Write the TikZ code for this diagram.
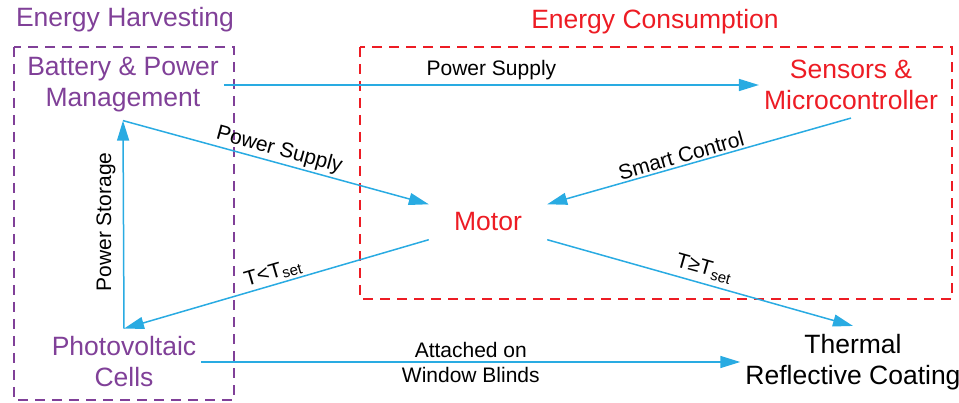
\documentclass[tikz,border=0pt]{standalone}
\usepackage{fontspec}
\setmainfont{Liberation Sans}
\usetikzlibrary{arrows.meta}
\definecolor{hpurple}{RGB}{128,64,152}
\definecolor{cred}{RGB}{237,28,36}
\definecolor{arrblue}{RGB}{41,171,226}
\tikzset{
  bignode/.style={align=center,font=\fontsize{26.5}{31}\selectfont,inner xsep=5pt,inner ysep=8pt},
  lbl/.style={font=\fontsize{21}{25}\selectfont,text=black,inner sep=2pt},
  conn/.style={draw=arrblue,line width=1.5pt,-{Triangle[length=20pt,width=12pt]}},
  groupbox/.style={line width=2.5pt,dash pattern=on 10pt off 7pt},
}
\newcommand{\Tsub}{\textsubscript{\fontsize{15}{15}\selectfont set}}
\begin{document}
\begin{tikzpicture}[x=1pt,y=-1pt]
\useasboundingbox (0,0) rectangle (959,403);
% group boxes
\draw[groupbox,draw=hpurple] (14,47) rectangle (234,400);
\draw[groupbox,draw=cred] (360,47) rectangle (952,299);
\node[bignode,text=hpurple] (th) at (125,20) {Energy Harvesting};
\node[bignode,text=cred] (tc) at (655,22) {Energy Consumption};
% nodes
\node[bignode,text=hpurple] (bat) at (123,85) {Battery \& Power\\Management};
\node[bignode,text=cred] (sens) at (851,85) {Sensors \&\\Microcontroller};
\node[bignode,text=cred,minimum width=118pt,minimum height=35pt] (mot) at (488,222) {Motor};
\node[bignode,text=hpurple] (pv) at (124,362) {Photovoltaic\\Cells};
\node[bignode,text=black] (tr) at (853,362) {Thermal\\Reflective Coating};
% connectors
\draw[conn] (bat.east) -- node[lbl,above=2pt] (l1) {Power Supply} (sens.west);
\draw[conn] (bat.south) -- node[lbl,sloped,above] (l2) {Power Supply} (mot.north west);
\draw[conn] (sens.south) -- node[lbl,sloped,above,pos=0.55] (l3) {Smart Control} (mot.north east);
\draw[conn] (mot.south west) -- node[lbl,sloped,above] (l4) {T<T\Tsub} (pv.north);
\draw[conn] (mot.south east) -- node[lbl,sloped,above=3pt] (l5) {T≥T\Tsub} (tr.north);
\draw[conn] (pv.north) -- (bat.south);
\node[lbl,rotate=90] (l6) at (106,222) {Power Storage};
\draw[conn] (pv.east) -- node[lbl,align=center] (l7) {Attached on\\Window Blinds} (tr.west);
\end{tikzpicture}
\end{document}
